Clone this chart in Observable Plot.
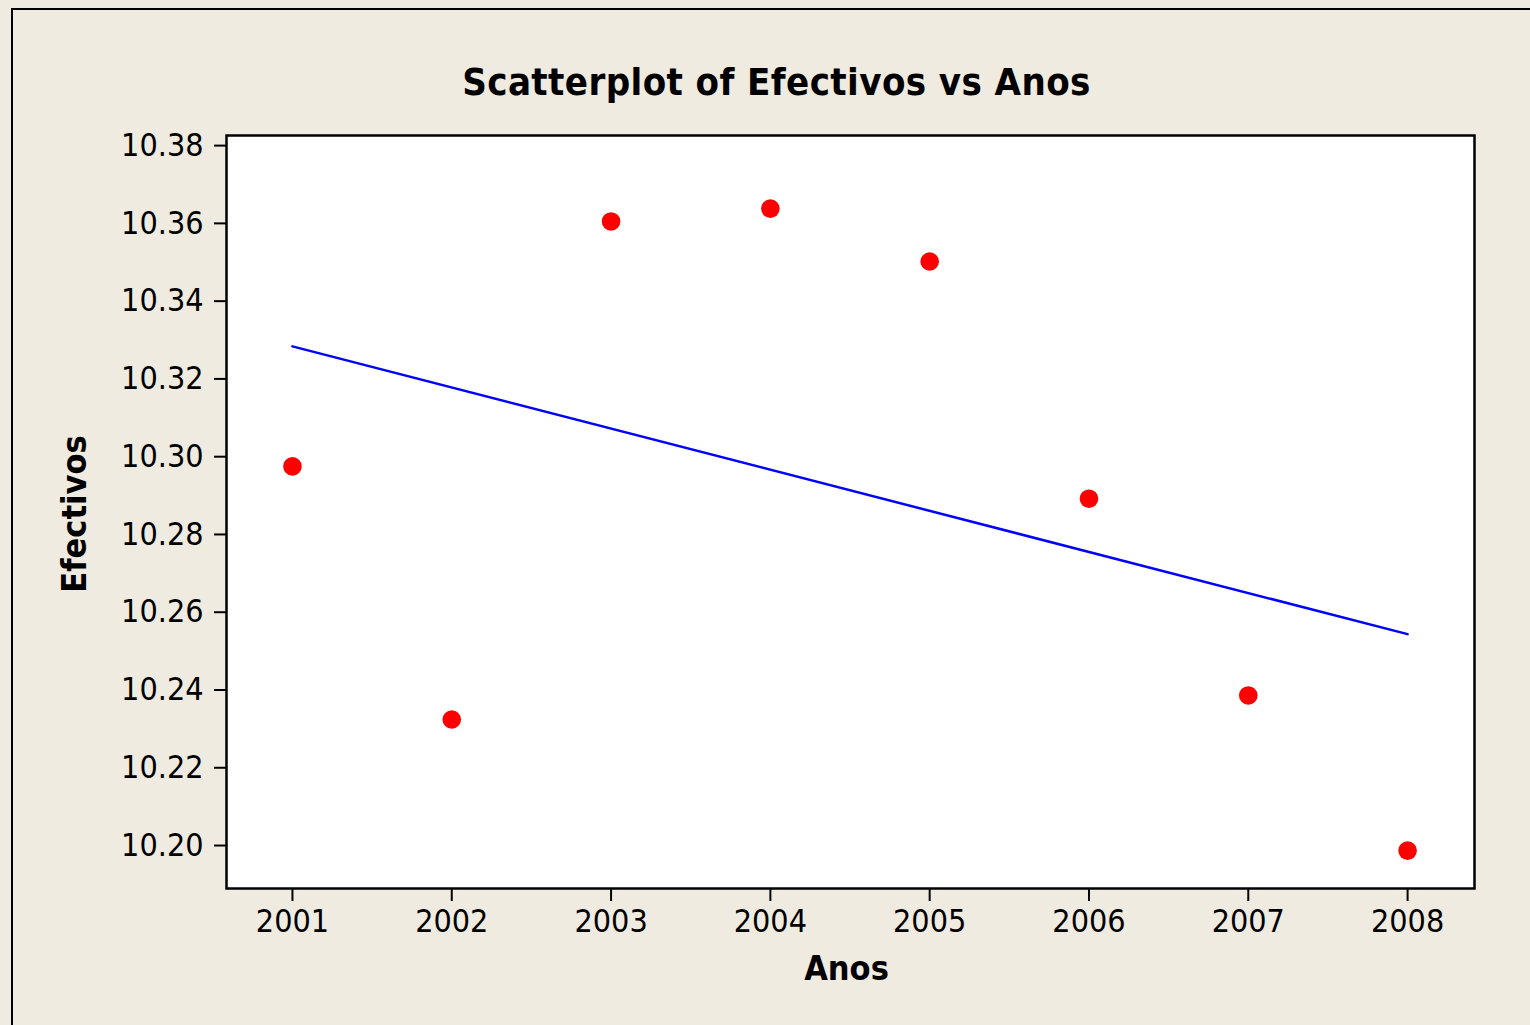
<!DOCTYPE html>
<html>
<head>
<meta charset="utf-8">
<script src="https://cdn.jsdelivr.net/npm/d3@7"></script>
<script src="https://cdn.jsdelivr.net/npm/@observablehq/plot@0.6"></script>
<style>
  html, body { margin: 0; padding: 0; background: #efebe1; }
  #wrap { position: relative; width: 1530px; height: 1025px; background: #efebe1; overflow: hidden;
          font-family: "DejaVu Sans Condensed", "DejaVu Sans", sans-serif; font-stretch: condensed; }
  #outer { position: absolute; left: 11px; top: 8px; width: 1600px; height: 1100px;
           border-left: 2px solid #000; border-top: 2px solid #000; box-sizing: border-box; }
  #title { position: absolute; left: 0; width: 1553px; top: 63px; text-align: center;
           font-weight: bold; font-size: 38px; letter-spacing: 0.4px; color: #000; line-height: 1; }
  #chart { position: absolute; left: 0; top: 0; }
</style>
</head>
<body>
<div id="wrap">
  <div id="outer"></div>
  <div id="title">Scatterplot of Efectivos vs Anos</div>
  <div id="chart"></div>
</div>
<script>
const anos = [2001, 2002, 2003, 2004, 2005, 2006, 2007, 2008];
const efectivos = [10.2975, 10.2324, 10.3605, 10.3638, 10.3502, 10.2892, 10.2386, 10.1987];
const yTicks = [10.20, 10.22, 10.24, 10.26, 10.28, 10.30, 10.32, 10.34, 10.36, 10.38];
const xTicks = anos;
const xLabel = "Anos";
const yLabel = "Efectivos";

const data = anos.map((a, i) => ({ano: a, ef: efectivos[i]}));

const fontFam = '"DejaVu Sans Condensed", "DejaVu Sans", sans-serif';

const chart = Plot.plot({
  width: 1530,
  height: 1025,
  marginLeft: 226,
  marginRight: 56,
  marginTop: 135,
  marginBottom: 137,
  style: {background: "transparent", fontFamily: fontFam, fontSize: "32px", color: "#000", fontStretch: "condensed"},
  x: {domain: [2000.586, 2008.42], label: null},
  y: {domain: [10.18895, 10.3826], label: null},
  marks: [
    Plot.frame({fill: "white", stroke: null}),
    Plot.axisX({ticks: xTicks, tickFormat: d => String(d), tickSize: 13, tickPadding: 8, strokeWidth: 2, stroke: "#000", fill: "#000", label: null}),
    Plot.axisY({ticks: yTicks, tickFormat: d => d.toFixed(2), tickSize: 12, tickPadding: 11, strokeWidth: 2, stroke: "#000", fill: "#000", label: null}),
    Plot.linearRegressionY(data, {x: "ano", y: "ef", stroke: "#0000ff", strokeWidth: 2.5, ci: 0}),
    Plot.dot(data, {x: "ano", y: "ef", r: 9.3, fill: "#ff0000", stroke: null}),
    Plot.frame({stroke: "#000", strokeWidth: 2.5}),
    Plot.text([xLabel], {frameAnchor: "bottom", text: d => d, dy: 81, dx: -4, fontWeight: "bold", fontSize: 34, fill: "#000", lineAnchor: "middle"}),
    Plot.text([yLabel], {frameAnchor: "left", text: d => d, dx: -151, dy: 2, rotate: -90, textAnchor: "middle", fontWeight: "bold", fontSize: 34, fill: "#000", lineAnchor: "middle"})
  ]
});
document.getElementById("chart").appendChild(chart);
</script>
</body>
</html>
